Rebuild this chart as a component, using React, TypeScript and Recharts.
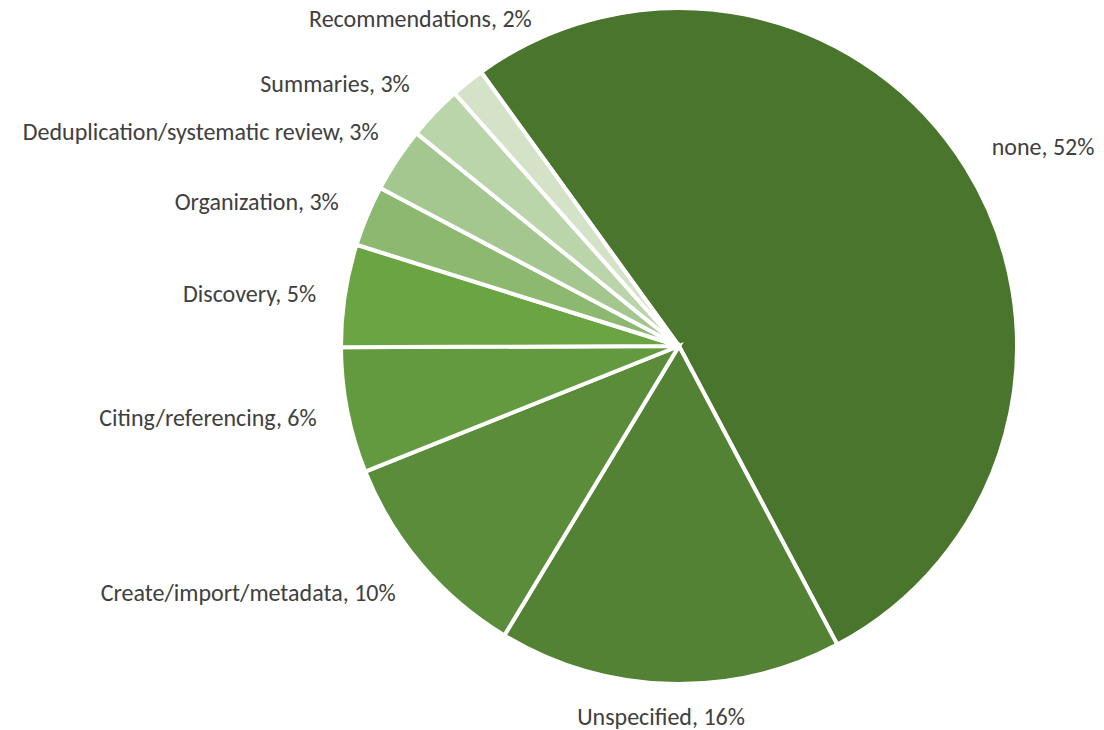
import { PieChart, Pie, Cell } from "recharts";

// share of responses by feature category (percent)
const categories = [
  "none",
  "Unspecified",
  "Create/import/metadata",
  "Citing/referencing",
  "Discovery",
  "Organization",
  "Deduplication/systematic review",
  "Summaries",
  "Recommendations",
];
const shares = [52.2, 16.4, 10.3, 6.0, 4.9, 2.9, 3.1, 2.6, 1.6];

const sliceColors = [
  "#4a752c",
  "#548235",
  "#5a8c3a",
  "#63993f",
  "#6ba443",
  "#8cb870",
  "#a4c68f",
  "#bad5a9",
  "#d4e2c8",
];

// small label nudges so text sits where Excel put it
const labelNudges: [number, number][] = [
  [7, -9],
  [-8, 11],
  [-9, 13],
  [-9, 3],
  [-7, 1],
  [-8, -6],
  [0, -16],
  [-9, -14],
  [78, -47],
];

const data = categories.map((name, i) => ({ name, value: shares[i] }));

const RAD = Math.PI / 180;

function renderLabel(props: any) {
  const { cx, cy, midAngle, outerRadius, percent, index, name } = props;
  const r = outerRadius + 22;
  const x = cx + r * Math.cos(-midAngle * RAD);
  const y = cy + r * Math.sin(-midAngle * RAD);
  const [dx, dy] = labelNudges[index] ?? [0, 0];
  const cosv = Math.cos(-midAngle * RAD);
  const anchor = Math.abs(cosv) < 0.15 ? "middle" : cosv > 0 ? "start" : "end";
  return (
    <text
      x={x + dx}
      y={y + dy}
      textAnchor={anchor}
      dominantBaseline="central"
      fill="#404040"
      fontSize={24}
      fontFamily="Calibri, Carlito, Lato, sans-serif"
    >
      {`${name}, ${Math.round(percent * 100)}%`}
    </text>
  );
}

export default function App() {
  return (
    <div
      style={{
        position: "absolute",
        top: 0,
        left: 0,
        width: 1104,
        height: 730,
        background: "#fff",
      }}
    >
      <PieChart
        width={1104}
        height={730}
        margin={{ top: 0, right: 0, bottom: 0, left: 0 }}
      >
        <Pie
          data={data}
          dataKey="value"
          nameKey="name"
          cx={679}
          cy={346}
          outerRadius={338}
          startAngle={125.85}
          endAngle={-234.15}
          stroke="#ffffff"
          strokeWidth={4}
          label={renderLabel}
          labelLine={false}
          isAnimationActive={false}
        >
          {data.map((entry, i) => (
            <Cell key={entry.name} fill={sliceColors[i]} />
          ))}
        </Pie>
      </PieChart>
    </div>
  );
}
